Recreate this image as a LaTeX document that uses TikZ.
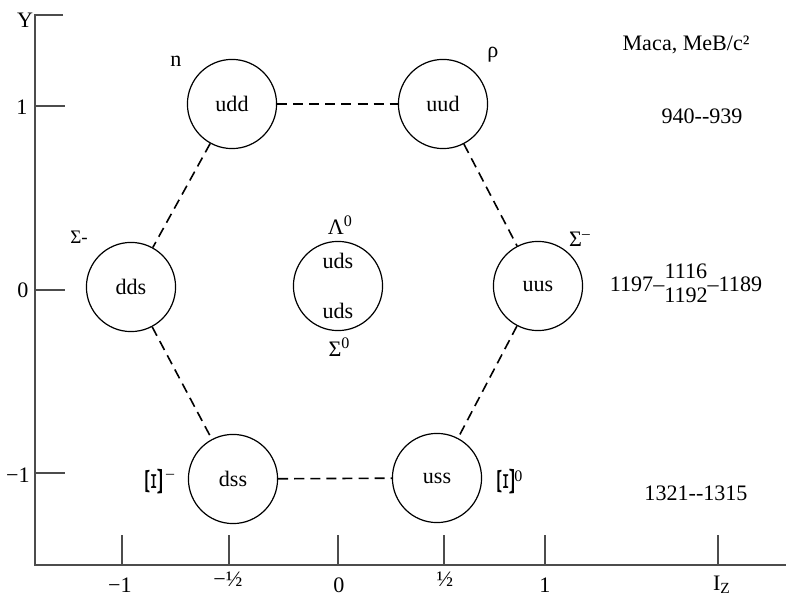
\documentclass[tikz,border=0pt]{standalone}
\usepackage{fontspec}
\setmainfont{Liberation Serif}
\usepackage{graphicx}

\begin{document}
\begin{tikzpicture}[x=1.75cm,y=1.75cm,
  every node/.style={font=\fontsize{11}{13}\selectfont},
  quark/.style={circle,draw,line width=0.6pt,minimum size=1.56cm,inner sep=0pt},
  link/.style={dash pattern=on 5pt off 3pt,line width=0.8pt},
  axis/.style={black!70,line width=0.9pt},
  small/.style={font=\fontsize{9.5}{11}\selectfont}]
\useasboundingbox (0,0) rectangle (7.86,5.95);

\draw[axis] (0.63,5.80) -- (0.35,5.80) -- (0.35,0.30) -- (7.86,0.30);
\foreach \y in {4.89,3.05,1.22} \draw[axis] (0.35,\y) -- (0.65,\y);
\foreach \x in {1.22,2.29,3.38,4.44,5.45,7.18} \draw[axis] (\x,0.30) -- (\x,0.60);

\node (ylab) at (0.25,5.75) {Y};
\node (yone) at (0.22,4.88) {1};
\node (yzero) at (0.23,3.05) {0};
\node (ymone) at (0.18,1.20) {−1};
\node (xmone) at (1.20,0.10) {−1};
\node (xmhalf) at (2.28,0.16) {−½};
\node (xzero) at (3.39,0.10) {0};
\node (xhalf) at (4.45,0.16) {½};
\node (xone) at (5.45,0.10) {1};
\node (xlab) at (7.22,0.10) {I\textsubscript{Z}};

\node[quark] (udd) at (2.32,4.91) {udd};
\node[quark] (uud) at (4.43,4.91) {uud};
\node[quark] (dds) at (1.31,3.08) {dds};
\node[quark] (uds) at (3.38,3.09) {};
\node[quark] (uus) at (5.38,3.09) {uus};
\node[quark] (dss) at (2.33,1.16) {dss};
\node[quark] (uss) at (4.37,1.17) {uss};
\node (udsa) at (3.38,3.34) {uds};
\node (udsb) at (3.38,2.84) {uds};

\draw[link] (udd) -- (uud);
\draw[link] (udd) -- (dds);
\draw[link] (uud) -- (uus);
\draw[link] (dds) -- (dss);
\draw[link] (uus) -- (uss);
\draw[link] (dss) -- (uss);

\node (nn) at (1.76,5.34) {n};
\node (pp) at (4.93,5.40) {ρ};
\node[small] (sigm) at (0.79,3.58) {Σ-};
\node (sigp) at (5.80,3.56) {Σ\textsuperscript{–}};
\node (lam) at (3.40,3.70) {Λ\raisebox{0.8ex}{\footnotesize 0}};
\node (sig0) at (3.39,2.48) {Σ\raisebox{0.8ex}{\footnotesize 0}};
\node (xim) at (1.60,1.13) {\scalebox{1.15}[2.1]{\rotatebox{90}{Ξ}}\,\raisebox{1.8ex}{\footnotesize –}};
\node (xi0) at (5.10,1.13) {\scalebox{1.15}[2.1]{\rotatebox{90}{Ξ}}\raisebox{1.5ex}{\footnotesize 0}};

\node (mass) at (6.86,5.50) {Маса, МеВ/с²};
\node (mone) at (7.02,4.79) {940-{}-939};
\node (mzero) at (6.86,3.10) {1197–\raisebox{0.5pt}{\begin{tabular}{@{}c@{}}1116\\[-1pt]1192\end{tabular}}–1189};
\node (mmone) at (6.96,1.02) {1321-{}-1315};
\end{tikzpicture}
\end{document}
